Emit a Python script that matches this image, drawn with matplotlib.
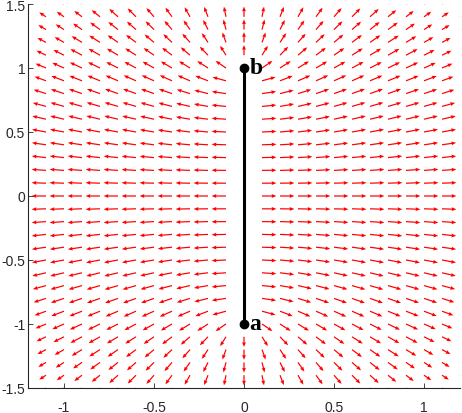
import numpy as np
import matplotlib
matplotlib.use('Agg')
import matplotlib.pyplot as plt

plt.rcParams['axes.unicode_minus'] = False

# grid of sample points (columns and rows of arrows)
x_grid = [-1.2, -1.1, -1.0, -0.9, -0.8, -0.7, -0.6, -0.5, -0.4, -0.3, -0.2, -0.1, 0.0,
          0.1, 0.2, 0.3, 0.4, 0.5, 0.6, 0.7, 0.8, 0.9, 1.0, 1.1, 1.2]
y_grid = [-1.5, -1.4, -1.3, -1.2, -1.1, -1.0, -0.9, -0.8, -0.7, -0.6, -0.5, -0.4, -0.3,
          -0.2, -0.1, 0.0, 0.1, 0.2, 0.3, 0.4, 0.5, 0.6, 0.7, 0.8, 0.9, 1.0, 1.1, 1.2,
          1.3, 1.4, 1.5]
# charged segment from a to b
seg_x = [0.0, 0.0]
seg_y = [-1.0, 1.0]
end_labels = ['a', 'b']
x_ticks = [-1, -0.5, 0, 0.5, 1]
x_ticklabels = ['-1', '-0.5', '0', '0.5', '1']
y_ticks = [-1.5, -1, -0.5, 0, 0.5, 1, 1.5]
y_ticklabels = ['-1.5', '-1', '-0.5', '0', '0.5', '1', '1.5']

# arrow display settings
sat = 1.1
arrow_len = 0.08

X, Y = np.meshgrid(np.array(x_grid), np.array(y_grid))
ya, yb = seg_y
ra = np.sqrt(X**2 + (Y - ya)**2)
rb = np.sqrt(X**2 + (Y - yb)**2)
with np.errstate(divide='ignore', invalid='ignore'):
    Ex = np.where(np.abs(X) > 1e-9, ((Y - ya) / ra - (Y - yb) / rb) / X, 0.0)
    Ey = 1.0 / rb - 1.0 / ra
on_seg = (np.abs(X) < 1e-9) & (Y >= ya - 1e-9) & (Y <= yb + 1e-9)
Ex = np.where(on_seg, np.nan, Ex)
Ey = np.where(on_seg, np.nan, Ey)
mag = np.hypot(Ex, Ey)
fac = np.minimum(mag / sat, 1.0) / mag * arrow_len
U = Ex * fac
V = Ey * fac

fig = plt.figure(figsize=(4.62, 4.14), dpi=100)
ax = fig.add_axes([28 / 462, 25 / 414, 432 / 462, 384 / 414])
ax.quiver(X, Y, U, V, color='#ff0000', angles='xy', scale_units='xy', scale=1,
          width=0.0028, headwidth=3.2, headlength=4, headaxislength=3.6, pivot='tail')

ax.plot(seg_x, seg_y, color='black', lw=2.2, solid_capstyle='butt', zorder=5)
ax.plot(seg_x, seg_y, 'o', color='black', ms=6, zorder=6)
for xs, ys, lab in zip(seg_x, seg_y, end_labels):
    ax.text(xs + 0.03, ys, lab, fontsize=17, fontweight='bold', family='Liberation Serif',
            va='center', ha='left', zorder=7)

ax.set_xlim(-1.2, 1.2)
ax.set_ylim(-1.5, 1.5)
ax.set_xticks(x_ticks)
ax.set_xticklabels(x_ticklabels)
ax.set_yticks(y_ticks)
ax.set_yticklabels(y_ticklabels)
for s in ['top', 'right']:
    ax.spines[s].set_visible(False)
for s in ['left', 'bottom']:
    ax.spines[s].set_color('#262626')
    ax.spines[s].set_linewidth(0.8)
ax.tick_params(direction='in', length=3.5, width=0.6, colors='#262626', labelsize=10)
ax.tick_params(axis='x', pad=9)
ax.tick_params(axis='y', pad=2)
for lbl in ax.get_xticklabels() + ax.get_yticklabels():
    lbl.set_family('Liberation Sans')

fig.savefig('out.png', dpi=100)
